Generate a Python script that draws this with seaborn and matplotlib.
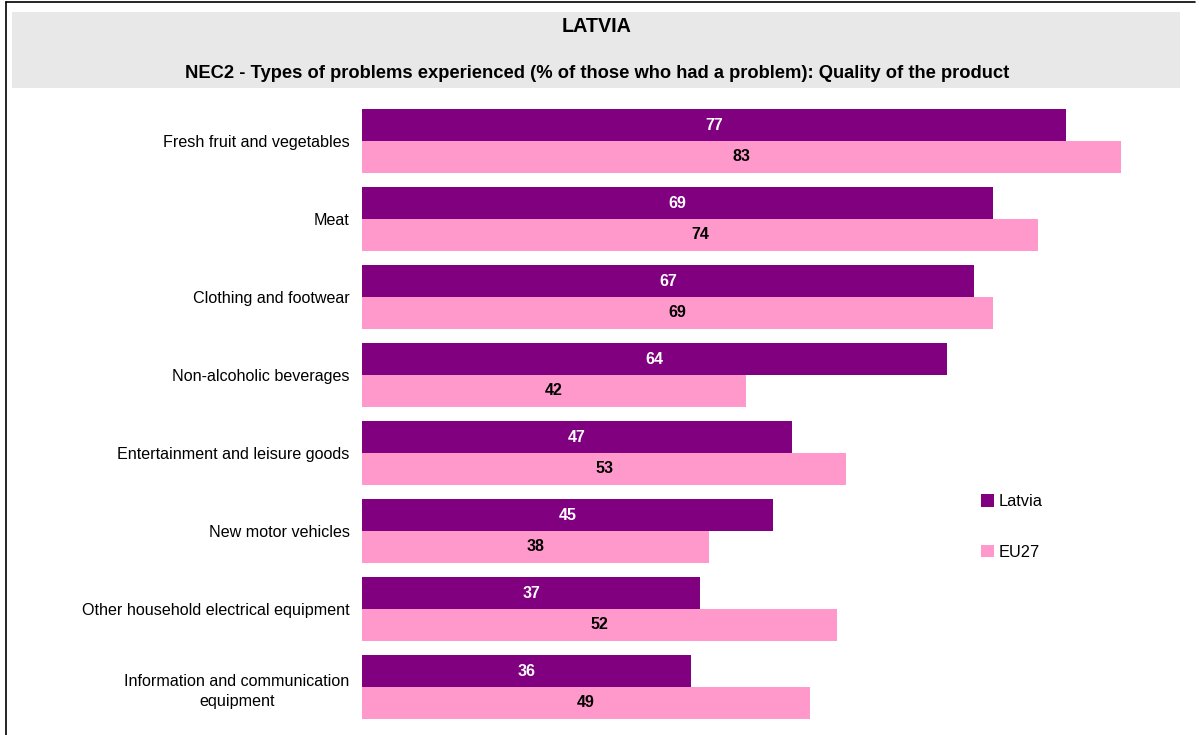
import pandas as pd
import matplotlib.pyplot as plt
import seaborn as sns
from matplotlib.patches import Rectangle, Patch

# data
categories = ['Fresh fruit and vegetables', 'Meat', 'Clothing and footwear', 'Non-alcoholic beverages',
              'Entertainment and leisure goods', 'New motor vehicles',
              'Other household electrical equipment', 'Information and communication\nequipment']
latvia = [77, 69, 67, 64, 47, 45, 37, 36]
eu27 = [83, 74, 69, 42, 53, 38, 52, 49]
series = ['Latvia', 'EU27']
colours = ['#800080', '#FF99CC']

df = pd.DataFrame({'Category': categories * 2,
                   'Value': latvia + eu27,
                   'Series': ['Latvia'] * len(categories) + ['EU27'] * len(categories)})

sns.set_theme(style='white')
plt.rcParams['font.family'] = ['Liberation Sans', 'DejaVu Sans']
plt.rcParams['text.color'] = 'black'
plt.rcParams['ytick.color'] = 'black'

fig = plt.figure(figsize=(12, 7.35), dpi=100)
ax = fig.add_axes([362/1200, 1 - 726/735, (1190-362)/1200, (726-102)/735])

sns.barplot(data=df, x='Value', y='Category', hue='Series', hue_order=series,
            palette=colours, orient='h', width=0.81, ax=ax, legend=False, saturation=1,
            linewidth=0)

ax.set_xlim(0, 90.6)
ax.set_ylim(7.5, -0.5)
for s in ax.spines.values():
    s.set_visible(False)
ax.set_xticks([])
ax.set_xlabel('')
ax.set_ylabel('')
ax.tick_params(axis='y', length=0, pad=9, labelsize=11.6, labelcolor='black')
for lab in ax.get_yticklabels():
    lab.set_multialignment('center')
    lab.set_linespacing(1.45)

# value labels in the middle of each bar
for cont, col in zip(ax.containers, ['white', 'black']):
    ax.bar_label(cont, label_type='center', color=col, fontsize=11.5, fontweight='bold')

# title band
fig.patches.append(Rectangle((12/1200, 1 - 88/735), (1180-12)/1200, (88-12)/735,
                             transform=fig.transFigure, facecolor='#E8E8E8', edgecolor='none', zorder=0))
fig.text(597/1200, 1 - 27/735, 'LATVIA', ha='center', va='center', fontsize=14.2, fontweight='bold')
fig.text(597/1200, 1 - 73/735, 'NEC2 - Types of problems experienced (% of those who had a problem): Quality of the product',
         ha='center', va='center', fontsize=13.2, fontweight='bold')

# outer frame lines (top and left)
fig.add_artist(plt.Line2D([6/1200, 6/1200], [0, 1 - 2/735], transform=fig.transFigure, color='black', lw=1.2))
fig.add_artist(plt.Line2D([6/1200, 1195/1200], [1 - 2/735, 1 - 2/735], transform=fig.transFigure, color='black', lw=1.2))

handles = [Patch(facecolor=c, edgecolor='none') for c in colours]
fig.legend(handles, series, loc='center left', bbox_to_anchor=(966/1200, 1 - 527/735), frameon=False,
           fontsize=11.8, handlelength=0.8, handleheight=0.8, handletextpad=0.3, labelspacing=2.15)

fig.savefig('out.png', dpi=100)
